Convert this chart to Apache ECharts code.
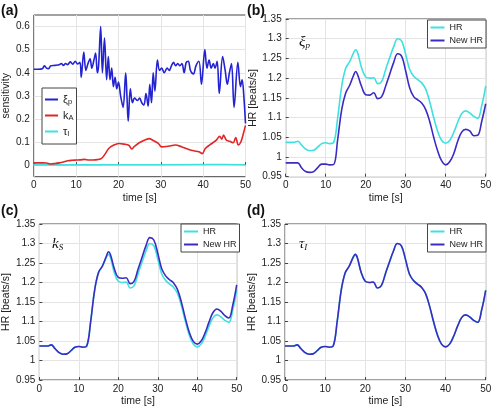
<!DOCTYPE html>
<html><head><meta charset="utf-8">
<script src="https://cdn.jsdelivr.net/npm/echarts@6/dist/echarts.min.js"></script>
<style>html,body{margin:0;padding:0;background:#fff}#c{width:495px;height:408px}</style>
</head><body><div id="c"></div>
<script>
// ---- panel (a): sensitivity ----
const tXi = [0,1,2,2.5,3,3.5,4,5,6,6.5,7,7.5,8,8.6,9.2,9.8,10.3,10.9,11.2,11.8,12.3,12.8,13.3,13.7,14.2,14.6,15.0,15.3,15.8,16.2,16.7,17.2,17.6,18.0,18.4,18.8,19.2,19.6,20.0,20.5,21.1,21.7,22.0,22.3,22.8,23.3,23.8,24.5,25.0,25.5,26.0,26.5,27.0,27.4,27.8,28.2,28.6,29.2,29.7,30.2,30.8,31.5,32.0,32.5,33.0,33.5,34.0,34.5,35.0,35.5,36.0,36.5,37.0,37.7,38.3,39.0,39.6,40.4,40.9,41.4,41.9,42.4,42.8,43.3,43.8,44.6,45.2,45.7,46.2,46.7,47.3,48.2,48.8,49.2,49.6,50.0];
const xiP = [0.415,0.415,0.417,0.43,0.42,0.418,0.43,0.432,0.435,0.44,0.432,0.44,0.435,0.447,0.437,0.45,0.438,0.445,0.38,0.49,0.41,0.44,0.46,0.42,0.455,0.485,0.40,0.43,0.60,0.40,0.55,0.37,0.47,0.37,0.42,0.34,0.38,0.33,0.36,0.30,0.25,0.40,0.30,0.19,0.33,0.27,0.29,0.28,0.29,0.27,0.26,0.31,0.255,0.35,0.27,0.40,0.32,0.455,0.41,0.42,0.40,0.42,0.41,0.43,0.445,0.43,0.44,0.43,0.44,0.40,0.445,0.45,0.41,0.395,0.43,0.45,0.35,0.50,0.42,0.455,0.42,0.44,0.42,0.45,0.31,0.47,0.41,0.35,0.40,0.44,0.25,0.445,0.34,0.37,0.30,0.18];
const tKA = [0,1,2,3,4,5,6,7,8,9,10,11,12,13,14,15,16,16.9,17.7,18.9,20.1,21.3,22.5,23.1,23.7,24.9,26.5,27.3,28.1,29.4,30.2,31.8,33.4,35,36.6,37.8,39,39.8,40.5,41.5,42.3,43.1,43.9,44.4,44.8,45.5,46.3,47.1,47.7,48.3,48.9,49.5,50];
const kA = [0.01,0.01,0.01,0.009,0.005,0.007,0.01,0.014,0.019,0.021,0.022,0.023,0.025,0.022,0.022,0.024,0.029,0.05,0.072,0.087,0.094,0.091,0.085,0.07,0.08,0.097,0.111,0.115,0.108,0.094,0.079,0.082,0.087,0.079,0.068,0.062,0.058,0.05,0.072,0.087,0.097,0.108,0.125,0.112,0.13,0.108,0.103,0.097,0.12,0.087,0.1,0.137,0.172];
const tTau = [0,10,20,30,40,45,50];
const tauI = [0.001,0.001,0.002,0.002,0.003,0.003,0.002];

// ---- panels (b)-(d): heart rate ----
const tHR = [0,1,2,3,4,5,6,7,8,9,10,11,12,13,14,15,16,17,17.5,18,19,20,21,22,23,24,25,26,27,28,29,30,31,32,33,34,35,36,37,38,39,40,41,42,43,44,45,46,47,48,49,50];
const HR = [1.037,1.037,1.037,1.040,1.030,1.020,1.016,1.017,1.025,1.034,1.036,1.034,1.037,1.10,1.18,1.225,1.242,1.265,1.272,1.264,1.225,1.203,1.200,1.201,1.186,1.192,1.222,1.252,1.28,1.300,1.294,1.26,1.222,1.205,1.196,1.188,1.172,1.14,1.10,1.065,1.042,1.035,1.042,1.062,1.088,1.110,1.117,1.112,1.103,1.098,1.13,1.18];
const newHR_b = [0.985,0.985,0.985,0.985,0.972,0.963,0.961,0.963,0.973,0.982,0.982,0.980,0.981,1.045,1.12,1.162,1.182,1.208,1.217,1.208,1.178,1.158,1.157,1.163,1.148,1.153,1.18,1.21,1.24,1.262,1.255,1.218,1.175,1.153,1.145,1.137,1.12,1.09,1.05,1.015,0.99,0.98,0.988,1.008,1.04,1.063,1.07,1.066,1.054,1.055,1.09,1.135];
const newHR_c = [1.037,1.037,1.037,1.040,1.030,1.020,1.016,1.017,1.025,1.034,1.036,1.034,1.037,1.10,1.18,1.226,1.243,1.268,1.279,1.272,1.235,1.213,1.211,1.212,1.197,1.203,1.234,1.264,1.294,1.315,1.309,1.275,1.235,1.217,1.207,1.199,1.182,1.149,1.108,1.072,1.049,1.042,1.05,1.071,1.099,1.123,1.132,1.126,1.115,1.109,1.142,1.194];
const newHR_d = HR.slice();

const pairs = (t, v) => t.map((x, i) => [x, v[i]]);

const BLUE = '#2323d2', RED = '#e02626', CYAN = '#3fe0e0', NAVY = '#3a2cc0';
const FONT = 'Liberation Sans';
const txt = '#222';
const GRIDC = '#e4e4e4';

const grids = [
  {left: 32, top: 15, width: 213.5, height: 161.7},
  {left: 285.7, top: 19, width: 200, height: 157.7},
  {left: 36, top: 224, width: 200.7, height: 157.7},
  {left: 285, top: 224, width: 200.7, height: 157.7}
].map(g => Object.assign(g, {show: true, borderColor: '#444', borderWidth: 1, containLabel: false}));

const common = {
  axisLine: {show: false},
  axisTick: {show: true, inside: true, length: 3, lineStyle: {color: '#444'}},
  axisLabel: {color: txt, fontFamily: FONT, fontSize: 10, margin: 4},
  splitLine: {show: true, lineStyle: {color: GRIDC, width: 1}},
  nameTextStyle: {color: txt, fontFamily: FONT, fontSize: 10.5}
};
const xAxes = [0,1,2,3].map(i => Object.assign({}, common, {
  type: 'value', gridIndex: i, min: 0, max: 50, interval: 10,
  name: 'time [s]', nameLocation: 'middle', nameGap: 16
}));
const yAxes = [
  Object.assign({}, common, {type: 'value', gridIndex: 0, min: -0.05, max: 0.65, interval: 0.05,
    axisLabel: Object.assign({}, common.axisLabel, {formatter: v => {
      const k = Math.round(v * 100); return (k >= 0 && k % 10 === 0) ? String(k / 100) : ''; }}),
    axisTick: {show: false},
    splitLine: {show: true, lineStyle: {color: ['rgba(0,0,0,0)', GRIDC], width: 1}},
    name: 'sensitivity', nameLocation: 'middle', nameGap: 18}),
  Object.assign({}, common, {type: 'value', gridIndex: 1, min: 0.95, max: 1.35, interval: 0.05,
    name: 'HR [beats/s]', nameLocation: 'middle', nameGap: 11}),
  Object.assign({}, common, {type: 'value', gridIndex: 2, min: 0.95, max: 1.35, interval: 0.05,
    name: 'HR [beats/s]', nameLocation: 'middle', nameGap: 18}),
  Object.assign({}, common, {type: 'value', gridIndex: 3, min: 0.95, max: 1.35, interval: 0.05,
    name: 'HR [beats/s]', nameLocation: 'middle', nameGap: 11})
];

const line = (name, data, idx, color, smooth) => ({
  type: 'line', name, data, xAxisIndex: idx, yAxisIndex: idx, symbol: 'none',
  smooth: smooth, lineStyle: {color, width: 1.6}, itemStyle: {color}, animation: false
});

const series = [
  line('tauI', pairs(tTau, tauI), 0, CYAN, false),
  line('kA', pairs(tKA, kA), 0, RED, 0.3),
  line('xiP', pairs(tXi, xiP), 0, BLUE, 0.35),
  line('HR', pairs(tHR, HR), 1, CYAN, 0.4),
  line('New HR', pairs(tHR, newHR_b), 1, NAVY, 0.4),
  line('HR', pairs(tHR, HR), 2, CYAN, 0.4),
  line('New HR', pairs(tHR, newHR_c), 2, NAVY, 0.4),
  line('HR', pairs(tHR, HR), 3, CYAN, 0.4),
  line('New HR', pairs(tHR, newHR_d), 3, NAVY, 0.4)
];

const legLabel = {xiP: '{m|ξ}{s|p}', kA: '{m|k}{s|A}', tauI: '{m|τ}{s|I}'};
const legendBase = {orient: 'vertical', backgroundColor: '#fff', borderColor: '#444', borderWidth: 1,
  icon: 'rect', itemWidth: 14, itemHeight: 2, textStyle: {color: txt, fontFamily: FONT, fontSize: 9}};
const legends = [
  Object.assign({}, legendBase, {left: 42, top: 88, padding: [6, 3, 6, 3], itemGap: 4, itemWidth: 13,
    data: ['xiP', 'kA', 'tauI'],
    formatter: n => legLabel[n],
    textStyle: {color: txt, fontFamily: FONT, fontSize: 11,
      rich: {m: {fontSize: 11, fontFamily: FONT, color: txt, lineHeight: 13, verticalAlign: 'middle'},
             s: {fontSize: 7.5, fontFamily: FONT, color: txt, lineHeight: 7, verticalAlign: 'bottom'}}}}),
  Object.assign({}, legendBase, {right: 9, top: 20, padding: [3, 3, 3, 3], itemGap: 4, data: ['HR', 'New HR']}),
  Object.assign({}, legendBase, {left: 181, top: 224, padding: [3, 3, 3, 3], itemGap: 4, data: ['HR', 'New HR']}),
  Object.assign({}, legendBase, {right: 9, top: 224, padding: [3, 3, 3, 3], itemGap: 4, data: ['HR', 'New HR']})
];

const panelLabel = (t, x, y) => ({type: 'text', left: x, top: y, style: {text: t, font: 'bold 14px "Liberation Sans"', fill: '#111'}});
const sym = (main, sub, x, y) => ({type: 'text', left: x, top: y, style: {
  text: '{m|' + main + '}{s|' + sub + '}',
  rich: {m: {font: 'italic 15px "Liberation Serif"', fill: '#111', lineHeight: 16, verticalAlign: 'middle'},
         s: {font: 'italic 9px "Liberation Serif"', fill: '#111', lineHeight: 9, verticalAlign: 'bottom'}}}});

const chart = echarts.init(document.getElementById('c'), null, {renderer: 'canvas'});
chart.setOption({
  animation: false,
  backgroundColor: '#fff',
  grid: grids, xAxis: xAxes, yAxis: yAxes, series, legend: legends,
  graphic: [
    panelLabel('(a)', 1, 4), panelLabel('(b)', 247, 4), panelLabel('(c)', 1, 204), panelLabel('(d)', 247, 204),
    sym('ξ', 'p', 299, 35), sym('k', 'S', 52, 237), sym('τ', 'I', 299, 237)
  ]
});
</script></body></html>
